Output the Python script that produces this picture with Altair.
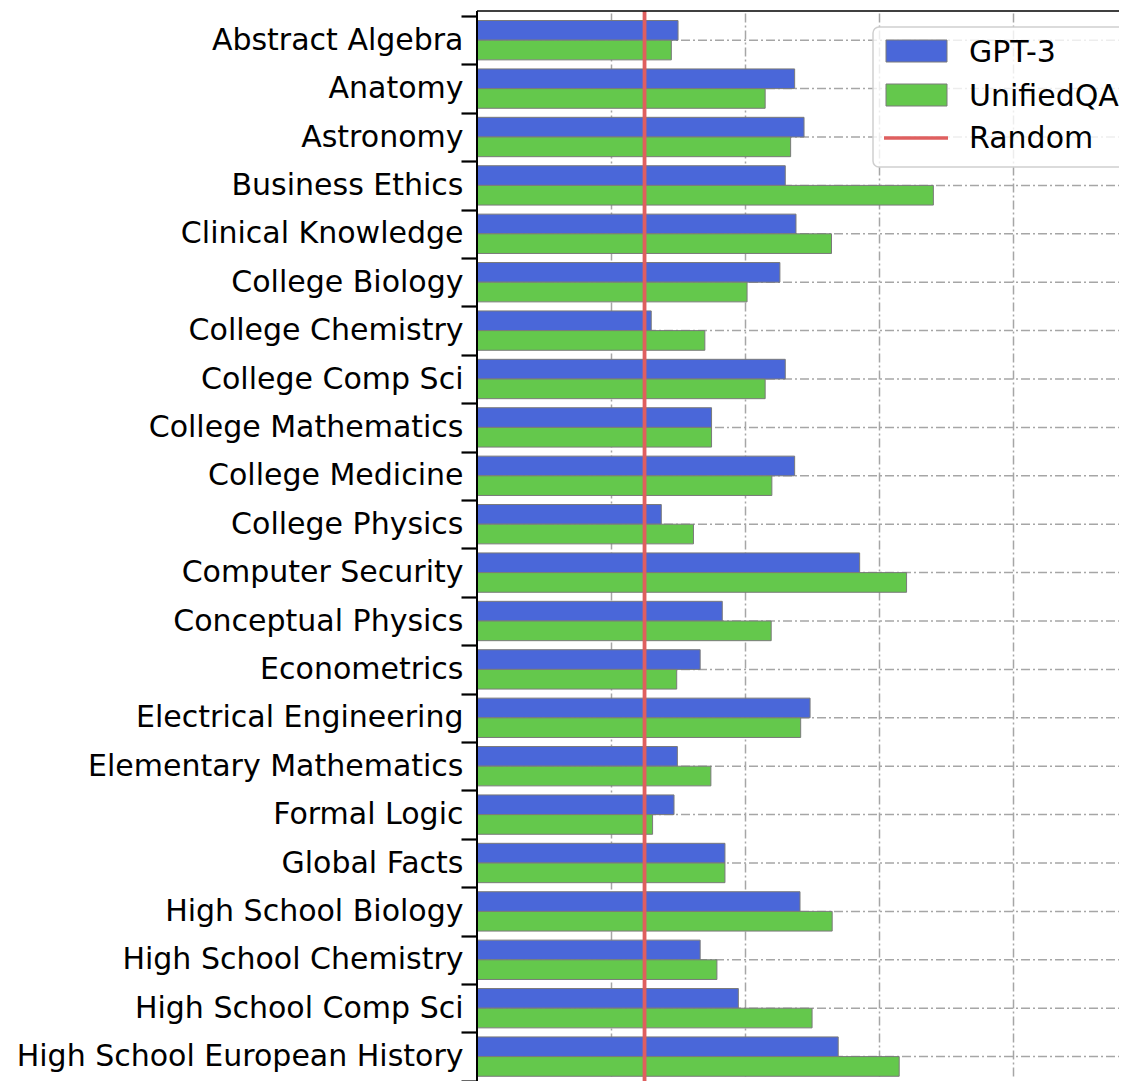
import altair as alt
import pandas as pd

subjects = [
    "Abstract Algebra", "Anatomy", "Astronomy", "Business Ethics",
    "Clinical Knowledge", "College Biology", "College Chemistry",
    "College Comp Sci", "College Mathematics", "College Medicine",
    "College Physics", "Computer Security", "Conceptual Physics",
    "Econometrics", "Electrical Engineering", "Elementary Mathematics",
    "Formal Logic", "Global Facts", "High School Biology",
    "High School Chemistry", "High School Comp Sci",
    "High School European History",
]
gpt3 = [30.0, 47.4, 48.8, 46.0, 47.6, 45.2, 26.0, 46.0, 35.0, 47.4, 27.5,
        57.1, 36.6, 33.3, 49.7, 29.9, 29.4, 37.0, 48.2, 33.3, 39.0, 53.9]
unifiedqa = [29.0, 43.0, 46.8, 68.1, 52.9, 40.3, 34.0, 43.0, 35.0, 44.0, 32.3,
             64.1, 43.9, 29.8, 48.3, 34.9, 26.2, 37.0, 53.0, 35.8, 50.0, 63.0]
models = ["GPT-3", "UnifiedQA"]
model_colors = ["#4a67d9", "#64c84c"]
random_label = "Random"
random_value = 25
random_color = "#df5f5f"
grid_values = [20, 40, 60, 80]

rows = []
for s, g, u in zip(subjects, gpt3, unifiedqa):
    rows.append({"subject": s, "model": models[0], "value": g})
    rows.append({"subject": s, "model": models[1], "value": u})
df = pd.DataFrame(rows)
subj_df = pd.DataFrame({"subject": subjects})

W = 642
H = 1070
X_MAX = 95.8
STEP = 48.4
Y0 = 5
DASH = [9, 3, 2, 3]
GRID_COLOR = "#a6a6a6"
FONT = "DejaVu Sans"

y_enc = alt.Y(
    "subject:N", sort=subjects, title=None,
    scale=alt.Scale(range=[Y0, Y0 + STEP * len(subjects)], paddingInner=0, paddingOuter=0),
    axis=alt.Axis(tickBand="extent", tickSize=16, tickWidth=2.2, tickColor="black",
                  labelFontSize=30, labelFont=FONT, labelColor="black",
                  labelPadding=-2, labelLimit=1000, domain=False, grid=False),
)
x_enc = alt.X(
    "value:Q", title=None,
    scale=alt.Scale(domain=[0, X_MAX], nice=False, zero=True),
    axis=alt.Axis(values=grid_values, grid=True, gridDash=DASH, gridColor=GRID_COLOR,
                  gridWidth=1.5, gridOpacity=1, labels=False, ticks=False, domain=False),
)

hgrid = alt.Chart(subj_df).mark_rule(
    strokeDash=DASH, color=GRID_COLOR, strokeWidth=1.5
).encode(y=y_enc, x=alt.value(0), x2=alt.value(W + 20))

bars = alt.Chart(df).mark_bar(stroke="#7a7a7a", strokeWidth=1).encode(
    y=y_enc,
    x=x_enc,
    yOffset=alt.YOffset("model:N", sort=models,
                        scale=alt.Scale(paddingOuter=0.23, paddingInner=0)),
    color=alt.Color("model:N", scale=alt.Scale(domain=models, range=model_colors), legend=None),
)

rand = alt.Chart(pd.DataFrame({"label": [random_label]})).mark_rule(
    color=random_color, strokeWidth=3.8
).encode(x=alt.datum(random_value), y=alt.value(0), y2=alt.value(H + 20))

# legend
one = pd.DataFrame({"k": [0]})
leg_box = alt.Chart(one).mark_rect(
    fill="white", fillOpacity=0.8, stroke="#cfcfcf", strokeWidth=1.5, cornerRadius=6
).encode(x=alt.value(396), x2=alt.value(W + 30), y=alt.value(16), y2=alt.value(156))

leg_layers = []
sw_y = [(29, 51), (73, 95)]
txt_y = [51, 95, 137]
for i, (m, c) in enumerate(zip(models, model_colors)):
    leg_layers.append(
        alt.Chart(one).mark_rect(fill=c, stroke="#7a7a7a", strokeWidth=1).encode(
            x=alt.value(409), x2=alt.value(470), y=alt.value(sw_y[i][0]), y2=alt.value(sw_y[i][1]))
    )
leg_layers.append(
    alt.Chart(one).mark_rule(color=random_color, strokeWidth=3.5).encode(
        x=alt.value(407), x2=alt.value(471), y=alt.value(127))
)
for i, lab in enumerate(models + [random_label]):
    leg_layers.append(
        alt.Chart(pd.DataFrame({"label": [lab]})).mark_text(
            align="left", baseline="alphabetic", fontSize=30, font=FONT, color="black"
        ).encode(text="label:N", x=alt.value(492), y=alt.value(txt_y[i]))
    )

top_spine = alt.Chart(one).mark_rule(color="black", strokeWidth=1.5).encode(
    x=alt.value(0), x2=alt.value(W + 20), y=alt.value(0))
left_spine = alt.Chart(one).mark_rule(color="black", strokeWidth=2).encode(
    x=alt.value(0), y=alt.value(0), y2=alt.value(H + 20))

chart = alt.layer(
    hgrid, bars, rand, leg_box, *leg_layers, top_spine, left_spine
).properties(
    width=W, height=H,
    autosize=alt.AutoSizeParams(type="none"),
    padding={"left": 469, "top": 3, "right": 0, "bottom": 0},
).configure_view(stroke=None)

chart.save("out.html", embed_options={"renderer": "svg", "actions": False})
